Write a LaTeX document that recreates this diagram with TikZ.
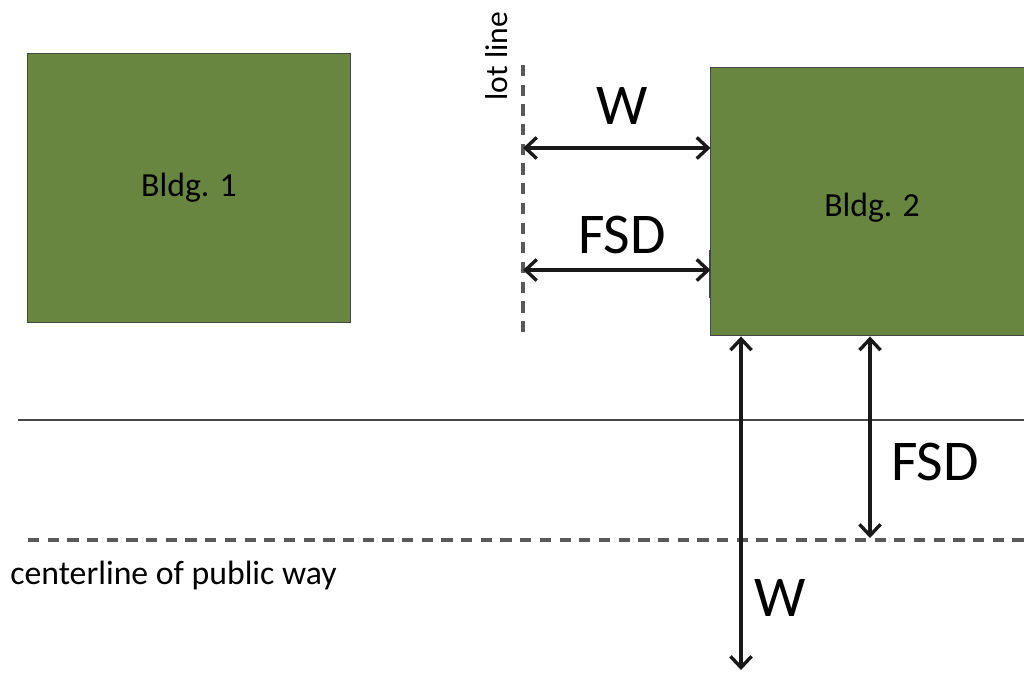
\documentclass[tikz,border=0pt]{standalone}
\usepackage{fontspec}
\setmainfont{Carlito}
\usetikzlibrary{arrows.meta,
                positioning}
\definecolor{bldggreen}{RGB}{104,134,64}
\definecolor{linegray}{RGB}{70,70,70}
\tikzset{bldg/.style=
   {rectangle,
    draw=linegray,
    fill=bldggreen,
    line width=0.7pt,
    text centered,
    minimum width=8.05cm,
    minimum height=6.72cm,
    font=\fontsize{24}{28}\selectfont}}
\tikzset{dim/.style = {draw, line width=2.6pt, black!90,
    {Straight Barb[length=8pt,width=15pt,line width=2.4pt]}-{Straight Barb[length=8pt,width=15pt,line width=2.4pt]}}}
\tikzset{biglabel/.style = {font=\fontsize{41}{46}\selectfont, inner sep=0pt}}
\tikzset{refline/.style = {draw=linegray, line width=2pt}}
\tikzset{dashline/.style = {draw=linegray!90, line width=2.3pt, dash pattern=on 8pt off 6pt}}

\begin{document}
\begin{tikzpicture}[x=0.025cm,y=-0.025cm]

    \useasboundingbox (0,0) rectangle (1024,673);
    \clip (0,0) rectangle (1024,673);

    % Place buildings
    \node [bldg] (bldg1) at (189,188) {Bldg. 1};
    \node [bldg, label={[font=\fontsize{24}{28}\selectfont, yshift=-0.15cm]center:Bldg. 2}] (bldg2) at (872,201.5) {};
    \draw [linegray, line width=1.6pt] (710,250) -- (710,298);

    % Lot line and street lines
    \coordinate (lottop) at (523,65);
    \coordinate (lotbot) at (523,336);
    \draw [dashline] (lottop) -- (lotbot);
    \node [rotate=90, font=\fontsize{22.5}{26}\selectfont, inner sep=0pt] (lotlbl) at (497,56) {lot line};

    \coordinate (streetL) at (18,420);
    \coordinate (streetR) at (1024,420);
    \draw [refline] (streetL) -- (streetR);

    \coordinate (centerL) at (28,540);
    \coordinate (centerR) at (1024,540);
    \draw [dashline] (centerL) -- (centerR);
    \node [font=\fontsize{24}{28}\selectfont, inner sep=0pt, anchor=west] (centerlbl) at (10,575) {centerline of public way};

    % Side distances to lot line
    \coordinate (lotW) at (523,148);
    \coordinate (lotF) at (523,270);
    \path [dim] (lotW) -- (lotW -| bldg2.west);
    \path [dim] (lotF) -- (lotF -| bldg2.west);
    \node [biglabel] (sideW) at (622,106) {W};
    \node [biglabel] (sideF) at (622,235) {FSD};

    % Front distances to street
    \coordinate (frontW) at (741,670);
    \coordinate (frontF) at (870,538);
    \path [dim] (frontW |- bldg2.south) -- (frontW);
    \path [dim] (frontF |- bldg2.south) -- (frontF);
    \node [biglabel] (downF) at (935,462) {FSD};
    \node [biglabel] (downW) at (780,598) {W};

\end{tikzpicture}
\end{document}
